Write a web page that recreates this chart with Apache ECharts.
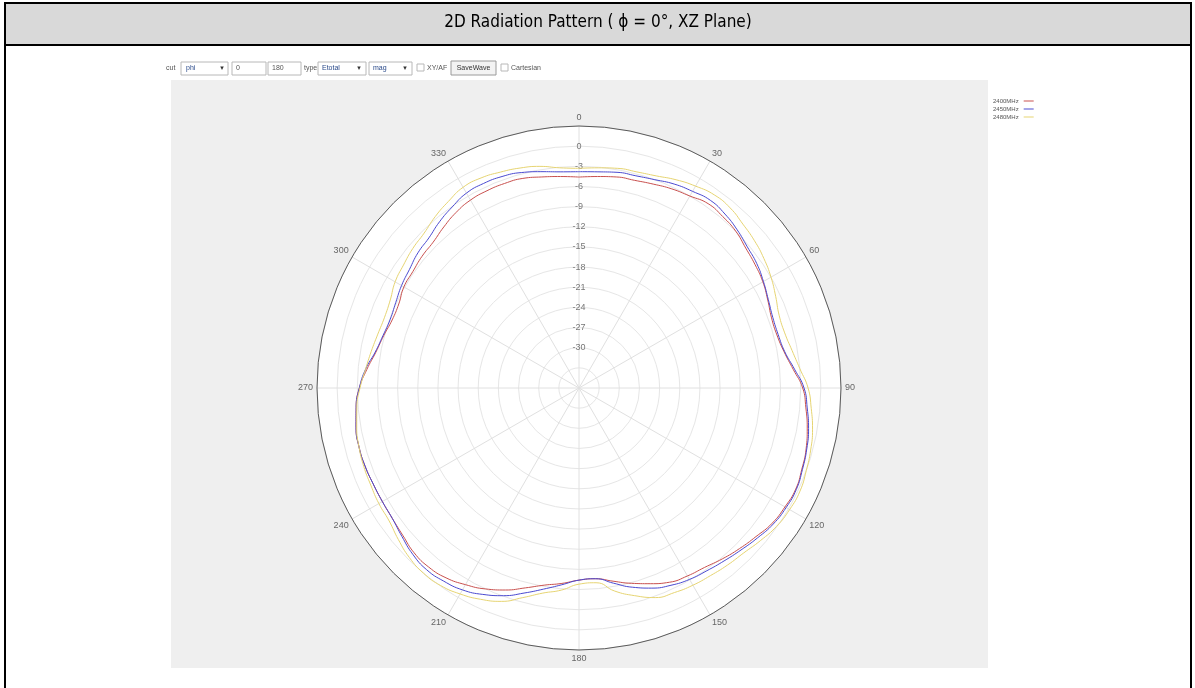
<!DOCTYPE html>
<html>
<head>
<meta charset="utf-8">
<script src="https://cdn.jsdelivr.net/npm/echarts@6/dist/echarts.min.js"></script>
<style>
html,body{margin:0;padding:0;background:#fff;}
#chart{width:1195px;height:688px;}
</style>
</head>
<body>
<div id="chart"></div>
<script>
// ---- data (dB, every 5 degrees, clockwise from top) ----
const TITLE = '2D Radiation Pattern ( \u03D5 = 0\u00B0, XZ Plane)';
const SERIES_NAMES = ['2400MHz', '2450MHz', '2480MHz'];
const ANGLES = [0,5,10,15,20,25,30,35,40,45,50,55,60,65,70,75,80,85,
                90,95,100,105,110,115,120,125,130,135,140,145,150,155,160,165,170,175,
                180,185,190,195,200,205,210,215,220,225,230,235,240,245,250,255,260,265,
                270,275,280,285,290,295,300,305,310,315,320,325,330,335,340,345,350,355];
const GAIN_2400 = [-4.6,-4.4,-4.1,-4.0,-3.7,-3.3,-3.0,-2.5,-2.7,-3.0,-3.6,-4.0,-4.4,-5.0,-5.5,-5.5,-5.0,-4.0,
                   -2.7,-2.1,-1.5,-1.0,-0.7,-0.4,-0.6,-0.9,-1.6,-2.2,-2.8,-3.4,-3.7,-4.1,-5.0,-5.9,-6.8,-7.5,
                   -7.4,-6.8,-6.2,-5.2,-4.0,-3.0,-2.2,-1.5,-1.2,-1.3,-1.8,-2.1,-2.2,-2.2,-2.1,-2.1,-2.3,-2.7,
                   -3.3,-4.3,-5.3,-5.9,-6.4,-6.4,-5.9,-5.8,-5.5,-5.3,-4.7,-4.1,-3.7,-3.6,-3.6,-3.7,-4.1,-4.4];
const GAIN_2450 = [-3.8,-3.7,-3.4,-3.3,-3.0,-2.5,-2.2,-1.9,-2.2,-2.7,-3.3,-3.7,-4.3,-4.9,-5.3,-5.3,-4.9,-3.8,
                   -2.5,-1.9,-1.3,-0.9,-0.6,-0.3,-0.4,-0.7,-1.3,-1.9,-2.4,-2.8,-3.1,-3.6,-4.3,-5.3,-6.5,-7.5,
                   -7.4,-6.6,-5.6,-4.4,-3.1,-2.1,-1.3,-0.9,-0.7,-1.0,-1.6,-2.1,-2.2,-2.2,-2.1,-2.1,-2.3,-2.7,
                   -3.3,-4.1,-5.2,-5.8,-6.1,-5.9,-5.5,-5.2,-4.7,-4.4,-3.7,-3.1,-2.5,-2.4,-2.5,-2.8,-3.3,-3.7];
const GAIN_2480 = [-3.3,-3.1,-2.8,-2.7,-2.4,-1.8,-1.3,-0.9,-1.0,-1.5,-1.9,-2.4,-3.0,-3.7,-4.3,-4.3,-3.8,-3.0,
                   -1.9,-1.3,-0.7,-0.3,0.0,0.3,0.2,-0.1,-0.7,-1.3,-1.6,-1.9,-2.1,-2.4,-2.8,-4.0,-5.3,-6.9,
                   -6.8,-5.8,-5.0,-3.7,-2.2,-1.3,-0.6,-0.1,0.0,-0.3,-0.9,-1.5,-1.6,-1.8,-1.9,-2.1,-2.4,-2.8,
                   -3.4,-4.1,-4.6,-5.0,-5.2,-5.0,-4.4,-4.1,-3.7,-3.4,-2.7,-2.1,-1.5,-1.5,-1.8,-2.1,-2.5,-3.1];
const ANGLE_TICKS = [0,30,60,90,120,150,180,210,240,270,300,330];
const RADIUS_LABELS = [0,-3,-6,-9,-12,-15,-18,-21,-24,-27,-30];
const COLORS = ['#c8504e', '#4a4ad0', '#e6d472'];

function closed(vals){
  const d = ANGLES.map((a,i)=>[vals[i], a]);
  d.push([vals[0], 360]);
  return d;
}

const chart = echarts.init(document.getElementById('chart'), null, {renderer:'canvas'});

const smallFont = '"Liberation Sans", "DejaVu Sans", sans-serif';
function box(x,y,w,h,fill,stroke){
  return {type:'rect', shape:{x:x,y:y,width:w,height:h}, style:{fill:fill||'#fff', stroke:stroke||'#b8b8b8', lineWidth:1}, z:5};
}
function txt(x,y,s,opts){
  opts = opts||{};
  return {type:'text', x:x, y:y, style:{text:s, fill:opts.color||'#555', font:(opts.size||7)+'px '+smallFont,
          textAlign:opts.align||'left', textVerticalAlign:'middle'}, z:6};
}

const tbY = 68;
const graphics = [
  {type:'rect', shape:{x:171,y:80,width:817,height:588}, style:{fill:'#efefef'}, z:-20},
  {type:'circle', shape:{cx:579, cy:388, r:262}, style:{fill:'#ffffff'}, z:-10},
  {type:'rect', shape:{x:5,y:3,width:1186,height:42}, style:{fill:'#d9d9d9'}, z:-20},
  {type:'line', shape:{x1:5,y1:3,x2:1191,y2:3}, style:{stroke:'#000', lineWidth:2}, z:10},
  {type:'line', shape:{x1:5,y1:45,x2:1191,y2:45}, style:{stroke:'#000', lineWidth:2}, z:10},
  {type:'line', shape:{x1:5,y1:2,x2:5,y2:688}, style:{stroke:'#000', lineWidth:2}, z:10},
  {type:'line', shape:{x1:1191,y1:2,x2:1191,y2:688}, style:{stroke:'#000', lineWidth:2}, z:10},
  {type:'text', x:598, y:23, style:{text:TITLE, fill:'#000',
     font:'17px "Liberation Sans Narrow", "DejaVu Sans Condensed", Roboto, sans-serif',
     textAlign:'center', textVerticalAlign:'middle'}, z:10},
  txt(166,tbY,'cut'),
  box(181,62,47,13), txt(186,tbY,'phi',{color:'#2a4a8a'}), txt(222,tbY,'\u25BE',{size:7,color:'#333',align:'center'}),
  box(232,62,34,13), txt(236,tbY,'0'),
  box(268,62,33,13), txt(272,tbY,'180'),
  txt(304,tbY,'type'),
  box(318,62,48,13), txt(322,tbY,'Etotal',{color:'#2a4a8a'}), txt(359,tbY,'\u25BE',{size:7,color:'#333',align:'center'}),
  box(369,62,43,13), txt(373,tbY,'mag',{color:'#2a4a8a'}), txt(405,tbY,'\u25BE',{size:7,color:'#333',align:'center'}),
  box(417,64,7,7), txt(427,tbY,'XY/AF'),
  box(451,61,45,14,'#f3f3f3','#9a9a9a'), txt(473.5,tbY,'SaveWave',{align:'center',color:'#333'}),
  box(501,64,7,7), txt(511,tbY,'Cartesian')
];

const option = {
  backgroundColor:'#ffffff',
  animation:false,
  color: COLORS,
  graphic: graphics,
  legend: {
    data: SERIES_NAMES,
    orient:'vertical',
    left: 988, top: 93,
    align:'right',
    icon:'rect',
    itemWidth:10, itemHeight:1,
    itemGap:2,
    textStyle:{fontSize:6, color:'#555', fontFamily:smallFont}
  },
  polar: { center:[579, 388], radius: 262 },
  angleAxis: {
    type:'value', min:0, max:360, interval:30,
    startAngle:90, clockwise:true,
    axisLine:{show:true, lineStyle:{color:'#5a5a5a', width:1}},
    axisTick:{show:false},
    axisLabel:{show:true, color:'#666', fontSize:9, fontFamily:smallFont, margin:4,
      formatter:function(v){ return ANGLE_TICKS.indexOf(v) >= 0 ? String(v) : ''; }},
    splitLine:{show:true, lineStyle:{color:'#e0e0e0', width:1}}
  },
  radiusAxis: {
    type:'value', min:-36, max:3, interval:3,
    axisLine:{show:false},
    axisTick:{show:false},
    axisLabel:{show:true, color:'#777', fontSize:9, fontFamily:smallFont, margin:0, align:'center', verticalAlign:'middle',
      formatter:function(v){ return RADIUS_LABELS.indexOf(v) >= 0 ? String(v) : ''; }},
    splitLine:{show:true, lineStyle:{color:'#e6e6e6', width:1}}
  },
  series: SERIES_NAMES.map(function(n, i){
    return {name:n, type:'line', coordinateSystem:'polar',
            data:closed([GAIN_2400, GAIN_2450, GAIN_2480][i]),
            showSymbol:false, smooth:0.5, lineStyle:{width:1}};
  })
};
chart.setOption(option);
</script>
</body>
</html>
